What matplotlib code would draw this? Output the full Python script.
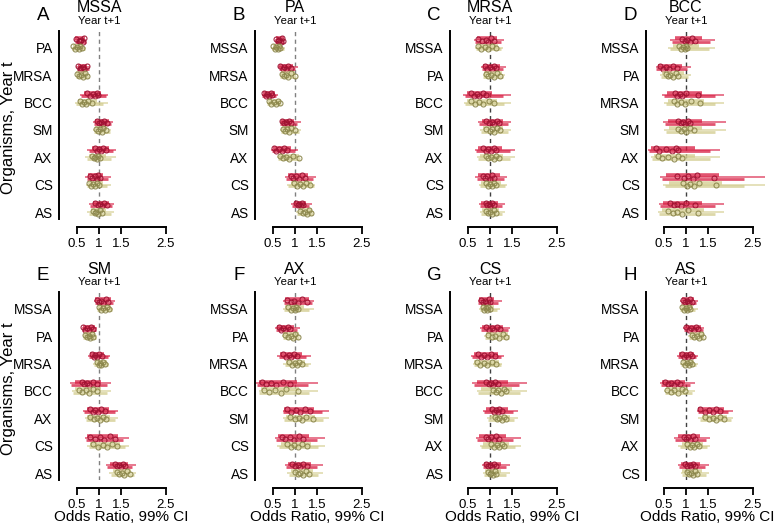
import matplotlib
matplotlib.use('Agg')
import matplotlib.pyplot as plt
from matplotlib.transforms import blended_transform_factory

plt.rcParams['font.family'] = ['Liberation Sans', 'DejaVu Sans']

letters = ['A', 'B', 'C', 'D', 'E', 'F', 'G', 'H']
titles = ['MSSA', 'PA', 'MRSA', 'BCC', 'SM', 'AX', 'CS', 'AS']
xticks = [0.5, 1, 1.5, 2.5]

# ---- A: MSSA ----
rows_A = ['PA', 'MRSA', 'BCC', 'SM', 'AX', 'CS', 'AS']
red_est_A = [[0.48, 0.55, 0.60, 0.63, 0.66, 0.58], [0.52, 0.58, 0.63, 0.66, 0.72, 0.60],
             [0.73, 0.80, 0.86, 0.90, 0.95, 0.98], [0.95, 1.00, 1.04, 1.08, 1.12, 1.17],
             [0.90, 0.96, 1.00, 1.05, 1.10, 1.15], [0.80, 0.85, 0.90, 0.95, 0.98, 1.02],
             [0.92, 0.98, 1.02, 1.06, 1.12, 1.17]]
red_ci_A = [[(0.47, 0.68), (0.45, 0.70), (0.44, 0.71)], [(0.52, 0.74), (0.50, 0.77), (0.48, 0.80)],
            [(0.66, 1.05), (0.60, 1.15), (0.57, 1.21)], [(0.92, 1.22), (0.88, 1.28), (0.86, 1.32)],
            [(0.84, 1.22), (0.78, 1.32), (0.74, 1.38)], [(0.76, 1.10), (0.72, 1.20), (0.69, 1.26)],
            [(0.86, 1.22), (0.80, 1.30), (0.78, 1.34)]]
olive_est_A = [[0.42, 0.46, 0.50, 0.54, 0.58, 0.61], [0.50, 0.55, 0.60, 0.64, 0.68, 0.73],
               [0.57, 0.62, 0.66, 0.70, 0.76, 0.84], [0.93, 0.98, 1.02, 1.06, 1.10, 1.16],
               [0.84, 0.88, 0.92, 0.95, 0.98, 1.02], [0.78, 0.83, 0.87, 0.91, 0.95, 1.00],
               [0.86, 0.90, 0.94, 0.98, 1.02, 1.06]]
olive_ci_A = [[(0.41, 0.64), (0.40, 0.68), (0.40, 0.71)], [(0.49, 0.74), (0.48, 0.77), (0.48, 0.80)],
              [(0.52, 0.95), (0.48, 1.10), (0.46, 1.21)], [(0.90, 1.18), (0.88, 1.24), (0.86, 1.28)],
              [(0.78, 1.15), (0.72, 1.28), (0.69, 1.38)], [(0.76, 1.08), (0.73, 1.18), (0.71, 1.26)],
              [(0.82, 1.15), (0.77, 1.26), (0.74, 1.34)]]

# ---- B: PA ----
rows_B = ['MSSA', 'MRSA', 'BCC', 'SM', 'AX', 'CS', 'AS']
red_est_B = [[0.58, 0.62, 0.65, 0.68, 0.70, 0.73], [0.67, 0.72, 0.76, 0.80, 0.85, 0.90],
             [0.30, 0.34, 0.38, 0.42, 0.46, 0.49], [0.71, 0.75, 0.79, 0.83, 0.87, 0.90],
             [0.52, 0.58, 0.64, 0.70, 0.76, 0.82], [0.90, 0.96, 1.02, 1.08, 1.15, 1.23],
             [1.03, 1.07, 1.10, 1.13, 1.16, 1.19]]
red_ci_B = [[(0.57, 0.75), (0.56, 0.76), (0.56, 0.77)], [(0.64, 0.95), (0.63, 1.00), (0.62, 1.06)],
            [(0.28, 0.55), (0.26, 0.58), (0.25, 0.61)], [(0.69, 0.98), (0.67, 1.05), (0.66, 1.13)],
            [(0.50, 0.92), (0.48, 1.00), (0.47, 1.06)], [(0.85, 1.30), (0.80, 1.40), (0.78, 1.48)],
            [(0.97, 1.25), (0.93, 1.32), (0.91, 1.38)]]
olive_est_B = [[0.51, 0.55, 0.58, 0.61, 0.64, 0.66], [0.71, 0.76, 0.80, 0.85, 0.92, 0.99],
               [0.41, 0.46, 0.52, 0.57, 0.62, 0.67], [0.73, 0.78, 0.82, 0.86, 0.92, 1.01],
               [0.66, 0.74, 0.80, 0.86, 0.95, 1.08], [0.97, 1.05, 1.12, 1.18, 1.25, 1.33],
               [1.12, 1.17, 1.22, 1.26, 1.31, 1.36]]
olive_ci_B = [[(0.50, 0.70), (0.48, 0.75), (0.47, 0.78)], [(0.69, 1.00), (0.67, 1.02), (0.66, 1.03)],
              [(0.39, 0.68), (0.37, 0.69), (0.36, 0.69)], [(0.70, 1.03), (0.68, 1.08), (0.67, 1.13)],
              [(0.63, 1.10), (0.61, 1.11), (0.60, 1.12)], [(0.90, 1.38), (0.85, 1.43), (0.82, 1.46)],
              [(1.08, 1.39), (1.05, 1.41), (1.03, 1.42)]]

# ---- C: MRSA ----
rows_C = ['MSSA', 'PA', 'BCC', 'SM', 'AX', 'CS', 'AS']
red_est_C = [[0.73, 0.82, 0.90, 0.96, 1.03, 1.10], [0.88, 0.94, 0.99, 1.04, 1.09, 1.14],
             [0.58, 0.64, 0.70, 0.76, 0.84, 0.92], [0.92, 0.98, 1.04, 1.10, 1.15, 1.20],
             [0.84, 0.90, 0.96, 1.02, 1.08, 1.14], [0.84, 0.89, 0.94, 0.99, 1.04, 1.10],
             [0.90, 0.94, 0.98, 1.01, 1.05, 1.08]]
red_ci_C = [[(0.70, 1.15), (0.67, 1.24), (0.65, 1.31)], [(0.84, 1.22), (0.82, 1.30), (0.80, 1.37)],
            [(0.48, 1.05), (0.43, 1.30), (0.40, 1.48)], [(0.82, 1.30), (0.76, 1.40), (0.73, 1.48)],
            [(0.74, 1.28), (0.69, 1.45), (0.67, 1.56)], [(0.74, 1.22), (0.70, 1.32), (0.67, 1.39)],
            [(0.80, 1.18), (0.77, 1.27), (0.75, 1.33)]]
olive_est_C = [[0.73, 0.80, 0.88, 0.95, 1.04, 1.13], [0.90, 0.96, 1.02, 1.08, 1.15, 1.23],
               [0.58, 0.66, 0.75, 0.85, 0.97, 1.10], [0.92, 0.99, 1.05, 1.10, 1.16, 1.23],
               [0.90, 0.96, 1.02, 1.08, 1.14, 1.20], [0.92, 0.96, 1.00, 1.04, 1.09, 1.14],
               [0.90, 0.95, 1.00, 1.04, 1.08, 1.13]]
olive_ci_C = [[(0.70, 1.17), (0.68, 1.24), (0.67, 1.30)], [(0.87, 1.27), (0.85, 1.30), (0.84, 1.33)],
              [(0.48, 1.15), (0.44, 1.32), (0.42, 1.48)], [(0.84, 1.30), (0.79, 1.40), (0.77, 1.48)],
              [(0.78, 1.30), (0.72, 1.45), (0.70, 1.56)], [(0.80, 1.25), (0.77, 1.33), (0.75, 1.39)],
              [(0.82, 1.20), (0.79, 1.28), (0.77, 1.33)]]

# ---- D: BCC ----
rows_D = ['MSSA', 'PA', 'MRSA', 'SM', 'AX', 'CS', 'AS']
red_est_D = [[0.92, 0.97, 1.02, 1.08, 1.14, 1.20], [0.41, 0.48, 0.55, 0.62, 0.70, 0.79],
             [0.75, 0.80, 0.86, 0.92, 1.00, 1.26], [0.83, 0.88, 0.93, 0.98, 1.04, 1.09],
             [0.33, 0.40, 0.55, 0.68, 0.78, 0.83], [0.79, 0.95, 1.05, 1.15, 1.25, 1.62],
             [0.64, 0.72, 0.80, 0.88, 1.00, 1.20]]
red_ci_D = [[(0.75, 1.35), (0.68, 1.55), (0.64, 1.66)], [(0.36, 0.90), (0.33, 1.02), (0.32, 1.11)],
            [(0.58, 1.35), (0.50, 1.65), (0.47, 1.86)], [(0.60, 1.35), (0.52, 1.65), (0.48, 1.89)],
            [(0.22, 1.20), (0.16, 1.55), (0.14, 1.77)], [(0.55, 1.75), (0.46, 2.30), (0.42, 2.78)],
            [(0.48, 1.35), (0.42, 1.65), (0.39, 1.85)]]
olive_est_D = [[0.85, 0.89, 0.93, 0.97, 1.00, 1.03], [0.55, 0.60, 0.65, 0.70, 0.77, 0.83],
               [0.73, 0.80, 0.88, 0.97, 1.12, 1.32], [0.83, 0.89, 0.95, 1.00, 1.08, 1.17],
               [0.37, 0.45, 0.60, 0.72, 0.82, 0.90], [0.94, 1.02, 1.10, 1.18, 1.30, 1.68],
               [0.60, 0.70, 0.80, 0.92, 1.05, 1.28]]
olive_ci_D = [[(0.70, 1.30), (0.64, 1.52), (0.60, 1.66)], [(0.46, 0.95), (0.43, 1.05), (0.41, 1.11)],
              [(0.60, 1.40), (0.54, 1.65), (0.50, 1.86)], [(0.62, 1.35), (0.55, 1.65), (0.50, 1.89)],
              [(0.28, 1.20), (0.24, 1.55), (0.22, 1.77)], [(0.62, 1.80), (0.52, 2.30), (0.48, 2.78)],
              [(0.46, 1.40), (0.40, 1.65), (0.37, 1.85)]]

# ---- E: SM ----
rows_E = ['MSSA', 'PA', 'MRSA', 'BCC', 'AX', 'CS', 'AS']
red_est_E = [[0.95, 1.00, 1.05, 1.10, 1.15, 1.21], [0.65, 0.69, 0.73, 0.77, 0.82, 0.86],
             [0.84, 0.88, 0.92, 0.96, 1.01, 1.06], [0.61, 0.66, 0.72, 0.78, 0.86, 0.95],
             [0.80, 0.86, 0.92, 0.98, 1.05, 1.13], [0.80, 0.92, 1.02, 1.12, 1.24, 1.36],
             [1.36, 1.41, 1.46, 1.50, 1.54, 1.58]]
red_ci_E = [[(0.92, 1.26), (0.90, 1.32), (0.89, 1.36)], [(0.63, 0.90), (0.62, 0.93), (0.61, 0.96)],
            [(0.80, 1.12), (0.78, 1.20), (0.76, 1.25)], [(0.45, 1.05), (0.38, 1.18), (0.35, 1.28)],
            [(0.72, 1.22), (0.67, 1.35), (0.65, 1.43)], [(0.74, 1.42), (0.71, 1.55), (0.69, 1.68)],
            [(1.25, 1.65), (1.19, 1.75), (1.16, 1.84)]]
olive_est_E = [[1.00, 1.05, 1.09, 1.13, 1.18, 1.23], [0.69, 0.73, 0.77, 0.80, 0.84, 0.87],
               [0.95, 0.99, 1.02, 1.05, 1.09, 1.13], [0.54, 0.62, 0.70, 0.78, 0.86, 0.95],
               [0.80, 0.88, 0.95, 1.02, 1.09, 1.16], [0.87, 0.98, 1.08, 1.18, 1.30, 1.40],
               [1.40, 1.46, 1.52, 1.57, 1.63, 1.69]]
olive_ci_E = [[(0.97, 1.26), (0.96, 1.30), (0.95, 1.32)], [(0.66, 0.90), (0.64, 0.93), (0.63, 0.96)],
              [(0.90, 1.17), (0.88, 1.20), (0.86, 1.23)], [(0.45, 1.05), (0.41, 1.18), (0.39, 1.28)],
              [(0.74, 1.25), (0.71, 1.35), (0.69, 1.43)], [(0.80, 1.48), (0.77, 1.58), (0.74, 1.68)],
              [(1.32, 1.72), (1.27, 1.78), (1.23, 1.84)]]

# ---- F: AX ----
rows_F = ['MSSA', 'PA', 'MRSA', 'BCC', 'SM', 'CS', 'AS']
red_est_F = [[0.81, 0.90, 0.98, 1.06, 1.15, 1.26], [0.63, 0.68, 0.73, 0.78, 0.84, 0.89],
             [0.74, 0.80, 0.86, 0.92, 0.98, 1.05], [0.25, 0.35, 0.45, 0.58, 0.72, 0.89],
             [0.81, 0.92, 1.02, 1.12, 1.22, 1.34], [0.70, 0.78, 0.88, 0.98, 1.08, 1.19],
             [0.93, 1.00, 1.06, 1.12, 1.19, 1.26]]
red_ci_F = [[(0.78, 1.32), (0.76, 1.38), (0.74, 1.43)], [(0.59, 0.98), (0.57, 1.05), (0.55, 1.11)],
            [(0.67, 1.15), (0.63, 1.25), (0.60, 1.35)], [(0.18, 1.05), (0.15, 1.30), (0.13, 1.52)],
            [(0.76, 1.42), (0.74, 1.60), (0.72, 1.77)], [(0.62, 1.32), (0.58, 1.50), (0.55, 1.67)],
            [(0.85, 1.35), (0.80, 1.50), (0.78, 1.62)]]
olive_est_F = [[0.85, 0.90, 0.95, 0.99, 1.03, 1.07], [0.78, 0.85, 0.91, 0.96, 1.01, 1.07],
               [0.87, 0.93, 0.99, 1.04, 1.09, 1.15], [0.31, 0.42, 0.55, 0.68, 0.80, 1.07],
               [0.89, 1.00, 1.08, 1.16, 1.25, 1.40], [0.81, 0.90, 0.98, 1.06, 1.15, 1.26],
               [1.00, 1.06, 1.12, 1.18, 1.25, 1.32]]
olive_ci_F = [[(0.78, 1.20), (0.76, 1.32), (0.74, 1.43)], [(0.74, 1.08), (0.72, 1.10), (0.70, 1.11)],
              [(0.80, 1.22), (0.77, 1.30), (0.74, 1.35)], [(0.24, 1.10), (0.20, 1.32), (0.18, 1.52)],
              [(0.80, 1.45), (0.76, 1.62), (0.74, 1.77)], [(0.68, 1.35), (0.63, 1.52), (0.60, 1.67)],
              [(0.90, 1.40), (0.86, 1.52), (0.83, 1.62)]]

# ---- G: CS ----
rows_G = ['MSSA', 'PA', 'MRSA', 'BCC', 'SM', 'AX', 'AS']
red_est_G = [[0.80, 0.84, 0.88, 0.92, 0.97, 1.01], [0.90, 0.97, 1.04, 1.10, 1.16, 1.22],
             [0.73, 0.80, 0.87, 0.94, 1.02, 1.11], [0.92, 0.97, 1.02, 1.07, 1.12, 1.18],
             [1.05, 1.09, 1.13, 1.17, 1.21, 1.26], [0.90, 0.96, 1.02, 1.08, 1.14, 1.20],
             [0.92, 0.96, 1.00, 1.04, 1.08, 1.13]]
red_ci_G = [[(0.76, 1.10), (0.74, 1.18), (0.73, 1.26)], [(0.82, 1.30), (0.80, 1.40), (0.78, 1.46)],
            [(0.63, 1.18), (0.60, 1.25), (0.58, 1.31)], [(0.70, 1.40), (0.63, 1.65), (0.60, 1.84)],
            [(0.92, 1.40), (0.87, 1.52), (0.84, 1.64)], [(0.76, 1.35), (0.71, 1.52), (0.69, 1.69)],
            [(0.87, 1.25), (0.85, 1.36), (0.83, 1.46)]]
olive_est_G = [[0.84, 0.87, 0.90, 0.93, 0.96, 0.99], [0.95, 1.04, 1.12, 1.20, 1.29, 1.37],
               [0.70, 0.78, 0.86, 0.94, 1.04, 1.14], [1.07, 1.13, 1.19, 1.25, 1.31, 1.37],
               [1.11, 1.16, 1.21, 1.26, 1.32, 1.37], [1.03, 1.09, 1.15, 1.20, 1.26, 1.31],
               [0.95, 0.99, 1.03, 1.07, 1.11, 1.14]]
olive_ci_G = [[(0.79, 1.08), (0.77, 1.16), (0.75, 1.23)], [(0.90, 1.40), (0.88, 1.43), (0.86, 1.45)],
              [(0.65, 1.20), (0.63, 1.25), (0.61, 1.28)], [(0.80, 1.50), (0.74, 1.68), (0.70, 1.84)],
              [(1.00, 1.45), (0.96, 1.55), (0.93, 1.64)], [(0.84, 1.42), (0.80, 1.56), (0.77, 1.69)],
              [(0.88, 1.25), (0.86, 1.36), (0.84, 1.46)]]

# ---- H: AS ----
rows_H = ['MSSA', 'PA', 'MRSA', 'BCC', 'SM', 'AX', 'CS']
red_est_H = [[0.94, 0.98, 1.02, 1.06, 1.10, 1.13], [1.00, 1.06, 1.12, 1.17, 1.23, 1.28],
             [0.90, 0.95, 0.99, 1.04, 1.09, 1.13], [0.52, 0.59, 0.66, 0.73, 0.80, 0.86],
             [1.32, 1.42, 1.51, 1.60, 1.68, 1.77], [0.95, 1.00, 1.05, 1.10, 1.15, 1.20],
             [0.98, 1.03, 1.08, 1.12, 1.16, 1.20]]
red_ci_H = [[(0.90, 1.18), (0.88, 1.23), (0.86, 1.28)], [(0.97, 1.33), (0.95, 1.38), (0.94, 1.41)],
            [(0.85, 1.18), (0.82, 1.22), (0.80, 1.26)], [(0.46, 0.98), (0.43, 1.10), (0.41, 1.20)],
            [(1.28, 1.85), (1.26, 1.95), (1.24, 2.06)], [(0.82, 1.32), (0.76, 1.45), (0.73, 1.55)],
            [(0.88, 1.32), (0.85, 1.42), (0.83, 1.51)]]
olive_est_H = [[0.92, 0.96, 0.99, 1.02, 1.06, 1.09], [1.13, 1.19, 1.24, 1.29, 1.34, 1.39],
               [0.94, 0.98, 1.02, 1.06, 1.10, 1.13], [0.58, 0.66, 0.74, 0.82, 0.90, 0.98],
               [1.43, 1.52, 1.60, 1.68, 1.76, 1.85], [1.02, 1.08, 1.14, 1.19, 1.25, 1.30],
               [1.02, 1.07, 1.12, 1.16, 1.20, 1.24]]
olive_ci_H = [[(0.89, 1.15), (0.87, 1.21), (0.86, 1.26)], [(1.09, 1.40), (1.07, 1.41), (1.05, 1.41)],
              [(0.90, 1.18), (0.88, 1.22), (0.86, 1.26)], [(0.54, 1.05), (0.52, 1.13), (0.50, 1.20)],
              [(1.35, 1.92), (1.31, 2.00), (1.28, 2.06)], [(0.90, 1.38), (0.86, 1.48), (0.83, 1.55)],
              [(0.92, 1.35), (0.90, 1.44), (0.88, 1.51)]]

panels = [
    (rows_A, red_est_A, red_ci_A, olive_est_A, olive_ci_A),
    (rows_B, red_est_B, red_ci_B, olive_est_B, olive_ci_B),
    (rows_C, red_est_C, red_ci_C, olive_est_C, olive_ci_C),
    (rows_D, red_est_D, red_ci_D, olive_est_D, olive_ci_D),
    (rows_E, red_est_E, red_ci_E, olive_est_E, olive_ci_E),
    (rows_F, red_est_F, red_ci_F, olive_est_F, olive_ci_F),
    (rows_G, red_est_G, red_ci_G, olive_est_G, olive_ci_G),
    (rows_H, red_est_H, red_ci_H, olive_est_H, olive_ci_H),
]

# styling
W, H = 777, 530
PX_PER_UNIT = 44.5
XMIN, XMAX = 0.1, 2.85
x_one = [99, 295, 490, 686]
row_top = [31.3, 292.3]
ax_h = 187.6
red_line, red_pt = '#d81b40', '#9c1030'
olive_line, olive_pt = '#d2cc8c', '#8a854a'
line_off = [-0.06, 0.06, 0.0]
line_w = [2.6, 2.0, 1.1]
pt_off = [-0.05, 0.04, -0.02, 0.06, -0.06, 0.02]
dash_col = ['#808080', '#808080', '#404040', '#404040', '#808080', '#808080', '#404040', '#404040']

fig = plt.figure(figsize=(W / 100, H / 100), dpi=100)


def draw_group(ax, y, est, ci, lc, pc):
    for k, (lo, hi) in enumerate(ci):
        ax.hlines(y + line_off[k], lo, hi, color=lc, lw=line_w[k], alpha=0.75)
    for j, e in enumerate(est):
        ax.plot(e, y + pt_off[j], 'o', mfc='none', mec=pc, ms=3.6, mew=0.8, alpha=0.9)


for p, (rows, r_est, r_ci, o_est, o_ci) in enumerate(panels):
    c, r = p % 4, p // 4
    left = x_one[c] - (1 - XMIN) * PX_PER_UNIT
    width = (XMAX - XMIN) * PX_PER_UNIT
    top = row_top[r]
    ax = fig.add_axes([left / W, 1 - (top + ax_h) / H, width / W, ax_h / H])
    ax.set_xlim(XMIN, XMAX)
    ax.set_ylim(6.25, -0.6)

    ax.axvline(1, color=dash_col[p], lw=1, linestyle=(0, (3, 2.5)), zorder=0)
    for i in range(len(rows)):
        draw_group(ax, i - 0.28, r_est[i], r_ci[i], red_line, red_pt)
        draw_group(ax, i + 0.0, o_est[i], o_ci[i], olive_line, olive_pt)

    ax.spines['top'].set_visible(False)
    ax.spines['right'].set_visible(False)
    ax.spines['left'].set_linewidth(1.4)
    ax.spines['bottom'].set_linewidth(1.4)
    ax.spines['bottom'].set_position(('outward', 6))
    ax.spines['bottom'].set_bounds(0.5, 2.5)
    ax.set_xticks(xticks)
    ax.set_xticklabels(['0.5', '1', '1.5', '2.5'])
    ax.tick_params(axis='x', length=5, width=1.3, pad=3, labelsize=9.5)
    ax.set_yticks(range(len(rows)))
    ax.set_yticklabels(rows)
    ax.tick_params(axis='y', length=0, pad=4.5, labelsize=9.8)

    tr = blended_transform_factory(ax.transData, fig.transFigure)
    dy = r * 261
    ax.text(1, 1 - (8 + dy) / H, titles[p], transform=tr, ha='center', va='center', fontsize=11.5)
    ax.text(1, 1 - (21 + dy) / H, 'Year t+1', transform=tr, ha='center', va='center', fontsize=8.2)
    ax.text(1 - 56 / PX_PER_UNIT, 1 - (15 + dy) / H, letters[p], transform=tr,
            ha='center', va='center', fontsize=13.5)

    if r == 1:
        if c < 3:
            ax.text(1.5, 1 - 517 / H, 'Odds Ratio, 99% CI', transform=tr,
                    ha='center', va='center', fontsize=11)
        else:
            fig.text(775 / W, 1 - 517 / H, 'Odds Ratio, 99% CI',
                     ha='right', va='center', fontsize=11)

for r in range(2):
    yc = row_top[r] + ax_h / 2 + 3
    fig.text(9 / W, 1 - yc / H, 'Organisms, Year t', rotation=90,
             ha='center', va='center', fontsize=12)

fig.savefig('out.png', dpi=100)
